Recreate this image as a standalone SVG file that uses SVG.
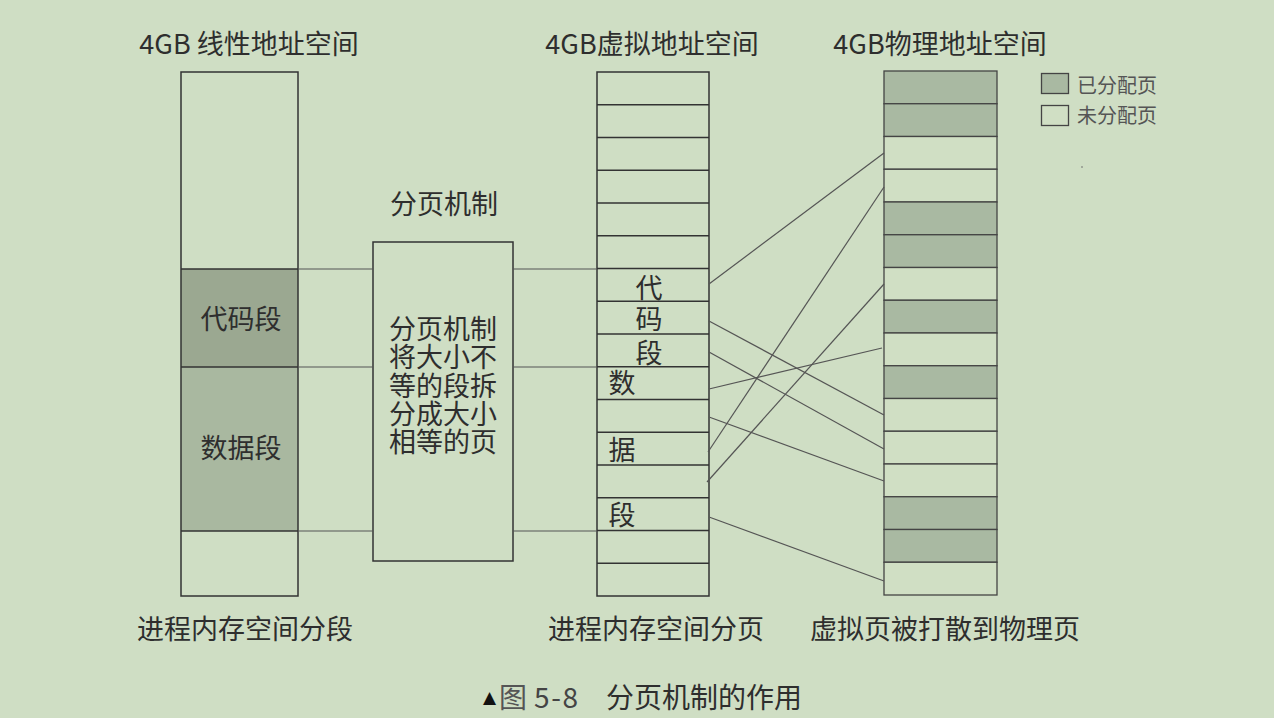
<svg xmlns="http://www.w3.org/2000/svg" width="1274" height="718" viewBox="0 0 1274 718">
<style>
.t{font-family:"Noto Sans CJK SC","Noto Sans",sans-serif;fill:#2e2e2e;font-size:27px;dominant-baseline:central;text-anchor:middle}
.lg{font-family:"Noto Sans CJK SC","Noto Sans",sans-serif;fill:#555;font-size:20px;dominant-baseline:central}
.col{fill:none;stroke:#333;stroke-width:1.5}
.row{stroke:#333;stroke-width:1.3}
.used{fill:#a9b9a2;stroke:#444;stroke-width:1.3}
.free{fill:#d0dfc4;stroke:#444;stroke-width:1.3}
.conn{stroke:#555;stroke-width:1.2;fill:none}
</style>
<rect width="1274" height="718" fill="#cfdec4"/>

<g id="titles">
<text class="t" x="249" y="42">4GB 线性地址空间</text>
<text class="t" x="652" y="42">4GB虚拟地址空间</text>
<text class="t" x="940" y="42">4GB物理地址空间</text>
</g>

<g id="linear-space">
<rect x="181" y="269" width="117" height="98" fill="#9ba891"/>
<rect x="181" y="367" width="117" height="164" fill="#a9b8a0"/>
<rect class="col" x="181" y="72" width="117" height="524"/>
<line class="row" x1="181" y1="269" x2="298" y2="269"/>
<line class="row" x1="181" y1="367" x2="298" y2="367"/>
<line class="row" x1="181" y1="531" x2="298" y2="531"/>
<text class="t" x="241" y="317">代码段</text>
<text class="t" x="241" y="446">数据段</text>
</g>

<g id="paging-box">
<text class="t" x="444" y="202">分页机制</text>
<rect class="col" x="373" y="242" width="140" height="319"/>
<text class="t" x="443" y="327"><tspan x="443" y="327">分页机制</tspan><tspan x="443" y="355">将大小不</tspan><tspan x="443" y="384">等的段拆</tspan><tspan x="443" y="412">分成大小</tspan><tspan x="443" y="440">相等的页</tspan></text>
</g>

<g id="virtual-space">
<rect class="col" x="597" y="72" width="112" height="524"/>
<line class="row" x1="597" y1="104.75" x2="709" y2="104.75"/>
<line class="row" x1="597" y1="137.5" x2="709" y2="137.5"/>
<line class="row" x1="597" y1="170.25" x2="709" y2="170.25"/>
<line class="row" x1="597" y1="203" x2="709" y2="203"/>
<line class="row" x1="597" y1="235.75" x2="709" y2="235.75"/>
<line class="row" x1="597" y1="268.5" x2="709" y2="268.5"/>
<line class="row" x1="597" y1="301.25" x2="709" y2="301.25"/>
<line class="row" x1="597" y1="334" x2="709" y2="334"/>
<line class="row" x1="597" y1="366.75" x2="709" y2="366.75"/>
<line class="row" x1="597" y1="399.5" x2="709" y2="399.5"/>
<line class="row" x1="597" y1="432.25" x2="709" y2="432.25"/>
<line class="row" x1="597" y1="465" x2="709" y2="465"/>
<line class="row" x1="597" y1="497.75" x2="709" y2="497.75"/>
<line class="row" x1="597" y1="530.5" x2="709" y2="530.5"/>
<line class="row" x1="597" y1="563.25" x2="709" y2="563.25"/>
<text class="t" x="649" y="286">代</text>
<text class="t" x="649" y="317">码</text>
<text class="t" x="649" y="351">段</text>
<text class="t" x="622" y="381">数</text>
<text class="t" x="622" y="448">据</text>
<text class="t" x="622" y="513">段</text>
</g>

<g id="physical-space">
<rect class="used" x="884" y="71" width="113" height="32.75"/>
<rect class="used" x="884" y="103.75" width="113" height="32.75"/>
<rect class="free" x="884" y="136.5" width="113" height="32.75"/>
<rect class="free" x="884" y="169.25" width="113" height="32.75"/>
<rect class="used" x="884" y="202" width="113" height="32.75"/>
<rect class="used" x="884" y="234.75" width="113" height="32.75"/>
<rect class="free" x="884" y="267.5" width="113" height="32.75"/>
<rect class="used" x="884" y="300.25" width="113" height="32.75"/>
<rect class="free" x="884" y="333" width="113" height="32.75"/>
<rect class="used" x="884" y="365.75" width="113" height="32.75"/>
<rect class="free" x="884" y="398.5" width="113" height="32.75"/>
<rect class="free" x="884" y="431.25" width="113" height="32.75"/>
<rect class="free" x="884" y="464" width="113" height="32.75"/>
<rect class="used" x="884" y="496.75" width="113" height="32.75"/>
<rect class="used" x="884" y="529.5" width="113" height="32.75"/>
<rect class="free" x="884" y="562.25" width="113" height="32.75"/>
</g>

<g id="legend">
<rect class="used" x="1041.5" y="73.5" width="27" height="20"/>
<rect class="free" x="1041.5" y="105.5" width="27" height="20"/>
<text class="lg" x="1077" y="84">已分配页</text>
<text class="lg" x="1077" y="114">未分配页</text>
<circle cx="1082" cy="167" r="0.8" fill="#666"/>
</g>

<g id="connectors">
<line class="conn" x1="298" y1="269" x2="373" y2="269"/>
<line class="conn" x1="298" y1="367" x2="373" y2="367"/>
<line class="conn" x1="298" y1="531" x2="373" y2="531"/>
<line class="conn" x1="513" y1="269" x2="597" y2="269"/>
<line class="conn" x1="513" y1="367" x2="597" y2="367"/>
<line class="conn" x1="513" y1="531" x2="597" y2="531"/>
<line class="conn" x1="709" y1="284" x2="884" y2="153"/>
<line class="conn" x1="709" y1="321" x2="884" y2="415"/>
<line class="conn" x1="709" y1="352" x2="884" y2="449"/>
<line class="conn" x1="709" y1="389" x2="882" y2="348"/>
<line class="conn" x1="709" y1="417" x2="884" y2="481"/>
<line class="conn" x1="708" y1="452" x2="884" y2="187"/>
<line class="conn" x1="707" y1="482" x2="884" y2="284"/>
<line class="conn" x1="709" y1="517" x2="884" y2="581"/>
</g>

<g id="bottom-labels">
<text class="t" x="245" y="627">进程内存空间分段</text>
<text class="t" x="656" y="627">进程内存空间分页</text>
<text class="t" x="945" y="627">虚拟页被打散到物理页</text>
</g>

<g id="caption">
<text x="483" y="697" style="font-family:'DejaVu Sans',sans-serif;font-size:17px;fill:#111;dominant-baseline:central">▲</text>
<text x="499" y="696" style="font-family:'Noto Sans CJK SC',sans-serif;font-size:28px;fill:#555;dominant-baseline:central">图</text>
<text x="534" y="696" textLength="44" lengthAdjust="spacing" style="font-family:'Noto Sans CJK SC',sans-serif;font-size:28px;fill:#444;dominant-baseline:central">5-8</text>
<text x="606" y="696" style="font-family:'Noto Sans CJK SC',sans-serif;font-size:28px;fill:#2e2e2e;dominant-baseline:central">分页机制的作用</text>
</g>
</svg>
